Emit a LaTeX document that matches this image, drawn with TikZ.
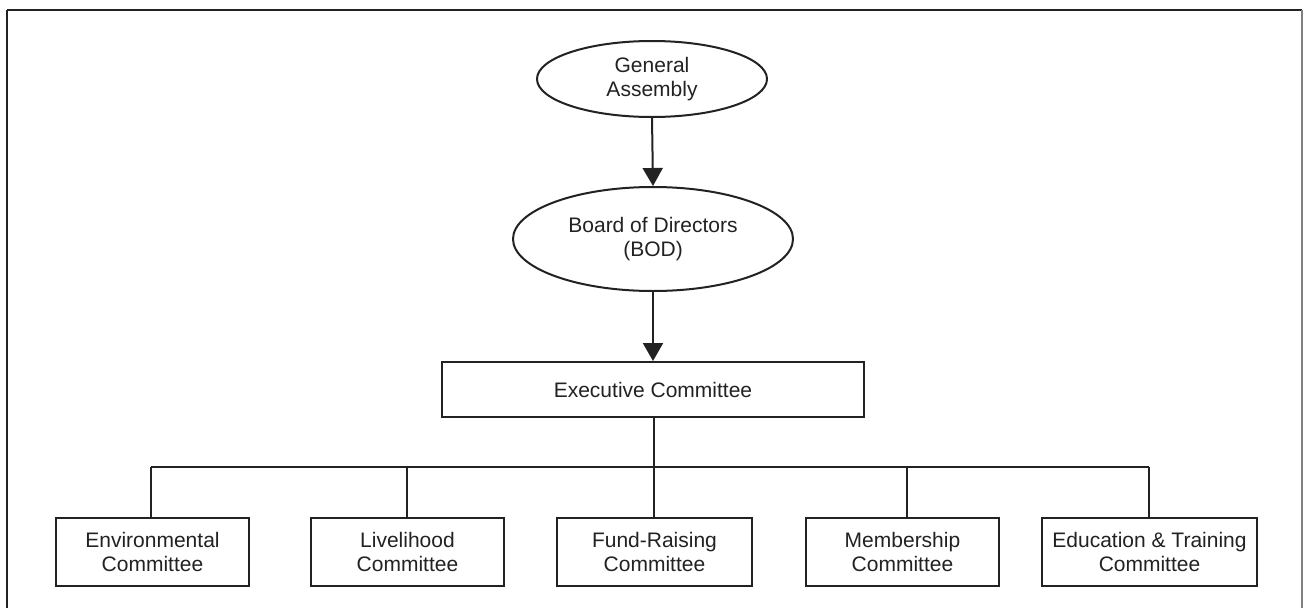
\documentclass[tikz,border=0pt]{standalone}
\usepackage{fontspec}
\setmainfont{Liberation Sans}
\usetikzlibrary{shapes.geometric,arrows.meta}
\definecolor{ink}{HTML}{222222}
\begin{document}
\begin{tikzpicture}[x=1pt,y=-1pt,
  every node/.style={font=\fontsize{21}{24.5}\selectfont, text=ink, align=center, inner sep=0pt},
  oval/.style={ellipse, draw=ink, line width=2pt},
  topbox/.style={rectangle, draw=ink, line width=2pt},
  combox/.style={rectangle, draw=ink, line width=2.2pt, minimum height=68pt},
  link/.style={draw=ink, line width=2pt},
  arrowlink/.style={draw=ink, line width=2pt, -{Triangle[width=20pt,length=18pt]}}]
\useasboundingbox (0,0) rectangle (1304,608);
\fill[white] (0,0) rectangle (1304,608);
% frame
\draw[ink, line width=2pt] (7,608) -- (7,10);
\draw[ink, line width=2.5pt] (7,10) -- (1302,10);
\draw[gray, line width=1.5pt] (1302,10) -- (1302,608);
% nodes
\node[oval, minimum width=230pt, minimum height=76pt] (ga) at (652,79) {General\\Assembly};
\node[oval, minimum width=280pt, minimum height=104pt] (bod) at (653,239) {Board of Directors\\(BOD)};
\node[topbox, minimum width=422pt, minimum height=55pt] (ec) at (653,389.5) {Executive Committee};
\node[combox, minimum width=193pt] (env) at (152.5,552) {Environmental\\Committee};
\node[combox, minimum width=193pt] (liv) at (407.5,552) {Livelihood\\Committee};
\node[combox, minimum width=195pt] (fund) at (654.5,552) {Fund-Raising\\Committee};
\node[combox, minimum width=193pt] (mem) at (902.5,552) {Membership\\Committee};
\node[combox, minimum width=215pt] (edu) at (1149.5,552) {Education \& Training\\Committee};
% connectors
\draw[arrowlink] (ga.south) -- (bod.north);
\draw[arrowlink] (bod.south) -- (ec.north);
\coordinate (hub) at (654,467);
\coordinate (hl) at (151,467);
\coordinate (hr) at (1149,467);
\draw[link] (ec.south -| hub) -- (hub);
\draw[link] (hl) -- (hr);
\draw[link] (hl) -- (hl |- env.north);
\draw[link] (407,467) -- (407,467 |- liv.north);
\draw[link] (hub) -- (hub |- fund.north);
\draw[link] (907,467) -- (907,467 |- mem.north);
\draw[link] (hr) -- (hr |- edu.north);
\end{tikzpicture}
\end{document}
